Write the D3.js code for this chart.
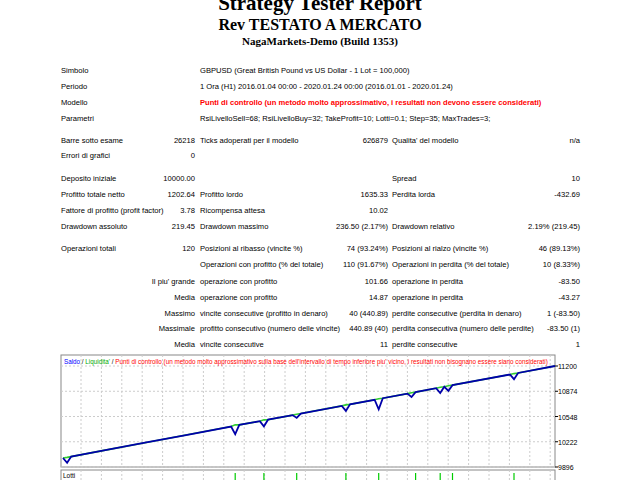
<!DOCTYPE html>
<html><head><meta charset="utf-8">
<script src="https://cdn.jsdelivr.net/npm/d3@7"></script>
<style>body{margin:0;background:#fff}text{font-family:"Liberation Sans",Arial,sans-serif}</style>
</head><body><svg id="c" width="640" height="480"></svg>
<script>
const headerRows = [
  ["Simbolo","GBPUSD (Great British Pound vs US Dollar - 1 Lot = 100,000)"],
  ["Periodo","1 Ora (H1) 2016.01.04 00:00 - 2020.01.24 00:00 (2016.01.01 - 2020.01.24)"],
  ["Modello","Punti di controllo (un metodo molto approssimativo, i resultati non devono essere considerati)"],
  ["Parametri","RsiLivelloSell=68; RsiLivelloBuy=32; TakeProfit=10; Lotti=0.1; Step=35; MaxTrades=3;"]
];
const statRows = [
  ["Barre sotto esame","26218","Ticks adoperati per il modello","626879","Qualita' del modello","n/a"],
  ["Errori di grafici","0","","","",""],
  ["Deposito iniziale","10000.00","","","Spread","10"],
  ["Profitto totale netto","1202.64","Profitto lordo","1635.33","Perdita lorda","-432.69"],
  ["Fattore di profitto (profit factor)","3.78","Ricompensa attesa","10.02","",""],
  ["Drawdown assoluto","219.45","Drawdown massimo","236.50 (2.17%)","Drawdown relativo","2.19% (219.45)"],
  ["Operazioni totali","120","Posizioni al ribasso (vincite %)","74 (93.24%)","Posizioni al rialzo (vincite %)","46 (89.13%)"],
  ["","","Operazioni con profitto (% del totale)","110 (91.67%)","Operazioni in perdita (% del totale)","10 (8.33%)"],
  ["","Il piu' grande","operazione con profitto","101.66","operazione in perdita","-83.50"],
  ["","Media","operazione con profitto","14.87","operazione in perdita","-43.27"],
  ["","Massimo","vincite consecutive (profitto in denaro)","40 (440.89)","perdite consecutive (perdita in denaro)","1 (-83.50)"],
  ["","Massimale","profitto consecutivo (numero delle vincite)","440.89 (40)","perdita consecutiva (numero delle perdite)","-83.50 (1)"],
  ["","Media","vincite consecutive","11","perdite consecutive","1"]
];
const statY = [143,158,181,197,213,229,251,267,284,300,316,331,347];
const tradeIdx = [0,1,2,10,20,30,41,42,43,48,49,50,56,57,58,68,69,70,76,77,78,84,85,86,91,92,93,94,95,109,110,111,120];
const balance = [10012,9950,10030,10111,10210,10309,10418,10320,10440,10487,10420,10507,10566,10530,10586,10685,10620,10705,10764,10640,10784,10843,10800,10863,10913,10850,10932,10880,10953,11090,11030,11110,11200];
const equity  = [10012,10020,10030,10111,10210,10309,10418,10440,10440,10487,10505,10507,10566,10578,10586,10685,10698,10705,10764,10778,10784,10843,10855,10863,10913,10925,10932,10945,10953,11090,11102,11110,11200];
const yTicks = [9896,10222,10548,10874,11200];
const lotTrades = [42,49,57,69,77,86,92,95,110];

const svg = d3.select("#c");
svg.append("text").attr("x",320).attr("y",10).attr("text-anchor","middle").style("font-family","Liberation Serif").style("font-weight","bold").style("font-size","21px").text("Strategy Tester Report");
svg.append("text").attr("x",320).attr("y",30).attr("text-anchor","middle").style("font-family","Liberation Serif").style("font-weight","bold").style("font-size","16px").text("Rev TESTATO A MERCATO");
svg.append("text").attr("x",320).attr("y",45).attr("text-anchor","middle").style("font-family","Liberation Serif").style("font-weight","bold").style("font-size","11px").text("NagaMarkets-Demo (Build 1353)");

const fs = "7.6px";
headerRows.forEach((r,i)=>{
  const y = 73+i*16;
  svg.append("text").attr("x",61).attr("y",y).style("font-size",fs).text(r[0]);
  svg.append("text").attr("x",200).attr("y",y).style("font-size",fs).attr("fill",i==2?"#f00":"#000").style("font-weight",i==2?"bold":"normal").text(r[1]);
});
statRows.forEach((r,i)=>{
  const y = statY[i];
  const cols = [[61,"start"],[195,"end"],[200,"start"],[388,"end"],[392,"start"],[580,"end"]];
  r.forEach((t,j)=>{ if(t) svg.append("text").attr("x",cols[j][0]).attr("y",y).attr("text-anchor",cols[j][1]).style("font-size",fs).text(t); });
});

// chart
const L=61,R=555,T=355,B=467;
const x = d3.scaleLinear().domain([0,120]).range([L+2,R]);
const y = d3.scaleLinear().domain([9896,11200]).range([B,366]);
svg.append("rect").attr("x",L).attr("y",T).attr("width",R-L).attr("height",B-T).attr("fill","#fff").attr("stroke","#888");
const g = svg.append("g");
for(let gx=L+20; gx<R; gx+=20.4) g.append("line").attr("x1",gx).attr("x2",gx).attr("y1",T).attr("y2",B).attr("stroke","#ccc").attr("stroke-dasharray","2,2");
yTicks.forEach(t=>{
  g.append("line").attr("x1",L).attr("x2",R).attr("y1",y(t)).attr("y2",y(t)).attr("stroke","#ccc").attr("stroke-dasharray","2,2");
  g.append("line").attr("x1",R).attr("x2",R+3).attr("y1",y(t)).attr("y2",y(t)).attr("stroke","#000");
  g.append("text").attr("x",R+3).attr("y",y(t)+3).style("font-size","7px").text(t);
});
const line = d3.line().x((d,i)=>x(tradeIdx[i])).y(d=>y(d));
svg.append("path").attr("d",line(equity)).attr("fill","none").attr("stroke","#3c3").attr("stroke-width",1.6);
svg.append("path").attr("d",line(balance)).attr("fill","none").attr("stroke","#0000aa").attr("stroke-width",1.8);
const lg = svg.append("text").attr("x",64).attr("y",364).style("font-size","6.3px");
lg.append("tspan").attr("fill","#00f").text("Saldo");
lg.append("tspan").attr("fill","#000").text(" / ");
lg.append("tspan").attr("fill","#0a0").text("Liquidita'");
lg.append("tspan").attr("fill","#000").text(" / ");
lg.append("tspan").attr("fill","#f00").text("Punti di controllo (un metodo molto approssimativo sulla base dell'intervallo di tempo inferiore piu' vicino, i resultati non bisognano essere siano considerati)");
// lots panel
svg.append("rect").attr("x",L).attr("y",470).attr("width",R-L).attr("height",20).attr("fill","#fff").attr("stroke","#888");
for(let gx=L+20; gx<R; gx+=20.4) svg.append("line").attr("x1",gx).attr("x2",gx).attr("y1",470).attr("y2",480).attr("stroke","#ccc").attr("stroke-dasharray","2,2");
svg.append("text").attr("x",63).attr("y",478).style("font-size","6.5px").text("Lotti");
lotTrades.forEach(t=>svg.append("line").attr("x1",x(t)).attr("x2",x(t)).attr("y1",473).attr("y2",480).attr("stroke","#0c0").attr("stroke-width",1.2));
</script></body></html>
